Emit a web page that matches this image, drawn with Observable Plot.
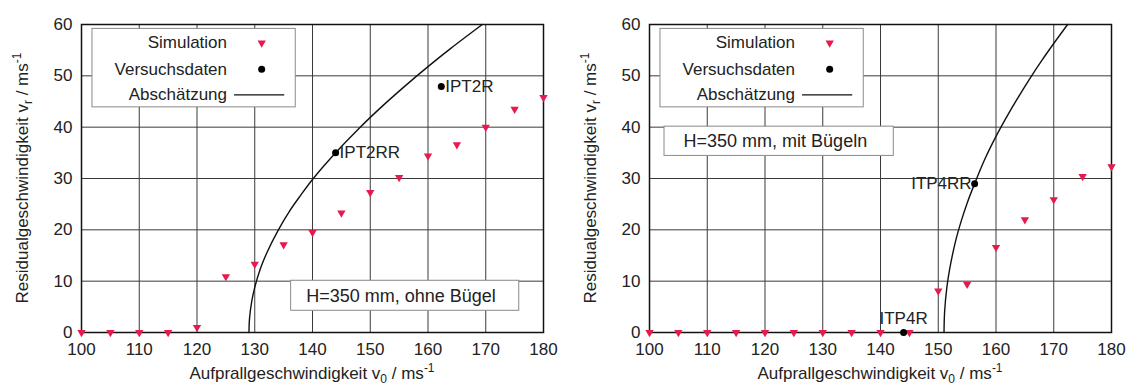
<!DOCTYPE html>
<html>
<head>
<meta charset="utf-8">
<script src="https://cdn.jsdelivr.net/npm/d3@7"></script>
<script src="https://cdn.jsdelivr.net/npm/@observablehq/plot@0.6"></script>
<style>
  html, body { margin: 0; padding: 0; background: #fff; }
  #wrap { position: relative; width: 1134px; height: 387px; display: flex; }
  #wrap > div { width: 567px; height: 387px; }
  svg { display: block; }
</style>
</head>
<body>
<div id="wrap"><div id="left"></div><div id="right"></div></div>
<script>
// ---- Data ----
const xTicks = [100, 110, 120, 130, 140, 150, 160, 170, 180];
const yTicks = [0, 10, 20, 30, 40, 50, 60];

const simV0 = [100, 105, 110, 115, 120, 125, 130, 135, 140, 145, 150, 155, 160, 165, 170, 175, 180];
const simVrOhne = [0, 0, 0, 0, 1, 10.9, 13.3, 17.1, 19.5, 23.3, 27.3, 30.2, 34.4, 36.6, 40, 43.5, 45.8];
const simVrMit  = [0, 0, 0, 0, 0, 0, 0, 0, 0, 0, 8.1, 9.4, 16.6, 22, 25.9, 30.4, 32.3];

const expOhneV0 = [144, 162.3];
const expOhneVr = [35, 47.9];
const expOhneLabels = ["IPT2RR", "IPT2R"];

const expMitV0 = [156.3, 144];
const expMitVr = [29, 0];
const expMitLabels = ["ITP4RR", "ITP4R"];

const estOhneV0 = [129, 129.1, 129.5, 130, 131, 132, 134, 136, 138, 140, 144, 148, 152, 156, 160, 164, 169.4];
const estOhneVr = [0, 2.8, 6.2, 8.8, 12.5, 15.3, 19.8, 23.6, 26.8, 29.8, 35, 39.7, 44.0, 48.0, 51.8, 55.4, 60];

const estMitV0 = [151, 151.1, 151.5, 152, 153, 154, 155, 156.3, 158, 160, 162, 164, 166, 168, 170, 172.4];
const estMitVr = [0, 4, 8.9, 12.5, 17.8, 21.8, 25.2, 29, 33.6, 38.2, 42.3, 46.1, 49.7, 53.1, 56.3, 60];

const legendLabels = ["Simulation", "Versuchsdaten", "Abschätzung"];
const panelNotes = ["H=350 mm, ohne Bügel", "H=350 mm, mit Bügeln"];

// ---- Styling / layout ----
const FONT = "'Liberation Sans', Arial, Helvetica, sans-serif";
const PINK = "#e8194f";
const legendRowsY = [56.4, 51.3, 46.3];

function zip(xs, ys, extra) {
  return xs.map((x, i) => ({x, y: ys[i], label: extra ? extra[i] : undefined, i}));
}

function panel(el, cfg) {
  const sim = zip(simV0, cfg.simVr);
  const exp = zip(cfg.expV0, cfg.expVr, cfg.expLabels);
  const est = zip(cfg.estV0, cfg.estVr);
  const legend = legendLabels.map((t, i) => ({t, y: legendRowsY[i], i}));

  const marks = [
    Plot.gridX(xTicks, {stroke: "#3a3a3a", strokeOpacity: 1, strokeWidth: 1}),
    Plot.gridY(yTicks, {stroke: "#3a3a3a", strokeOpacity: 1, strokeWidth: 1}),
    Plot.axisX(xTicks, {tickSize: 0, tickPadding: 10, label: null, fontSize: 17, fill: "#222"}),
    Plot.axisY(yTicks, {tickSize: 0, tickPadding: 9, label: null, fontSize: 17, fill: "#222"}),
    Plot.frame({stroke: "#111", strokeWidth: 1.5}),
    // legend box
    Plot.rect([0], {x1: () => 101.9, x2: () => 137.1, y1: () => 43.86, y2: () => 59.14,
      fill: "white", stroke: "#8a8a8a", strokeWidth: 1}),
    Plot.text(legend, {x: () => 125.2, y: "y", text: "t", textAnchor: "end", fontSize: 17, fill: "#222"}),
    Plot.dot(legend.filter(d => d.i === 0), {x: () => 131.2, y: "y", symbol: "triangle", rotate: 180,
      r: 3.1, fill: PINK, stroke: "none"}),
    Plot.dot(legend.filter(d => d.i === 1), {x: () => 131.2, y: "y", r: 3.5, fill: "black", stroke: "none"}),
    Plot.ruleY(legend.filter(d => d.i === 2), {x1: () => 126.5, x2: () => 135.2, y: "y", stroke: "#111", strokeWidth: 1.3}),
    // note box
    Plot.rect([0], {x1: () => cfg.note.x1, x2: () => cfg.note.x2, y1: () => cfg.note.y1, y2: () => cfg.note.y2,
      fill: "white", stroke: "#8a8a8a", strokeWidth: 1}),
    Plot.text([cfg.noteText], {x: () => cfg.note.tx, y: () => (cfg.note.y1 + cfg.note.y2) / 2,
      text: d => d, textAnchor: "start", fontSize: 18, fill: "#222"}),
    // data
    Plot.line(est, {x: "x", y: "y", stroke: "#111", strokeWidth: 1.4, curve: "catmull-rom"}),
    Plot.dot(sim, {x: "x", y: "y", symbol: "triangle", rotate: 180, r: 3.1, fill: PINK, stroke: "none"}),
    Plot.dot(exp, {x: "x", y: "y", r: 3.5, fill: "black", stroke: "none"}),
    ...cfg.labelMarks(exp)
  ];

  const chart = Plot.plot({
    width: 567,
    height: 387,
    marginLeft: cfg.ml,
    marginRight: cfg.mr,
    marginTop: 24,
    marginBottom: 55,
    x: {domain: [100, 180]},
    y: {domain: [0, 60]},
    style: {fontFamily: FONT, fontSize: "17px", color: "#222", background: "white", overflow: "visible"},
    marks
  });

  // axis titles with sub/superscripts
  const svg = d3.select(chart);
  const cx = cfg.ml + (567 - cfg.ml - cfg.mr) / 2;
  const xt = svg.append("text")
    .attr("x", cx).attr("y", 379)
    .attr("text-anchor", "middle")
    .style("font-family", FONT).style("font-size", "17px").attr("fill", "#222");
  xt.append("tspan").text("Aufprallgeschwindigkeit v");
  xt.append("tspan").attr("dy", 4).style("font-size", "12px").text("0");
  xt.append("tspan").attr("dy", -4).text(" / ms");
  xt.append("tspan").attr("dy", -7).style("font-size", "12px").text("-1");

  const yt = svg.append("text")
    .attr("transform", `translate(${cfg.ylx},${24 + (387 - 24 - 55) / 2}) rotate(-90)`)
    .attr("text-anchor", "middle")
    .style("font-family", FONT).style("font-size", "17px").attr("fill", "#222");
  yt.append("tspan").text("Residualgeschwindigkeit v");
  yt.append("tspan").attr("dy", 4).style("font-size", "12px").text("r");
  yt.append("tspan").attr("dy", -4).text(" / ms");
  yt.append("tspan").attr("dy", -7).style("font-size", "12px").text("-1");

  el.appendChild(chart);
}

panel(document.getElementById("left"), {
  ml: 81, mr: 24, ylx: 28,
  simVr: simVrOhne,
  expV0: expOhneV0, expVr: expOhneVr, expLabels: expOhneLabels,
  estV0: estOhneV0, estVr: estOhneVr,
  noteText: panelNotes[0],
  note: {x1: 136.3, x2: 175.8, y1: 4.23, y2: 10.08, tx: 138.9},
  labelMarks: exp => [
    Plot.text(exp, {x: "x", y: "y", text: "label", textAnchor: "start", dx: 4, fontSize: 17, fill: "#222"})
  ]
});

panel(document.getElementById("right"), {
  ml: 82, mr: 23, ylx: 29,
  simVr: simVrMit,
  expV0: expMitV0, expVr: expMitVr, expLabels: expMitLabels,
  estV0: estMitV0, estVr: estMitVr,
  noteText: panelNotes[1],
  note: {x1: 102.6, x2: 142.3, y1: 34.4, y2: 40.1, tx: 105.9},
  labelMarks: exp => [
    Plot.text(exp.filter(d => d.i === 0), {x: "x", y: "y", text: "label", textAnchor: "end", dx: -3, fontSize: 17, fill: "#222"}),
    Plot.text(exp.filter(d => d.i === 1), {x: "x", y: "y", text: "label", textAnchor: "middle", lineAnchor: "bottom", dy: -9, fontSize: 17, fill: "#222"})
  ]
});
</script>
</body>
</html>
